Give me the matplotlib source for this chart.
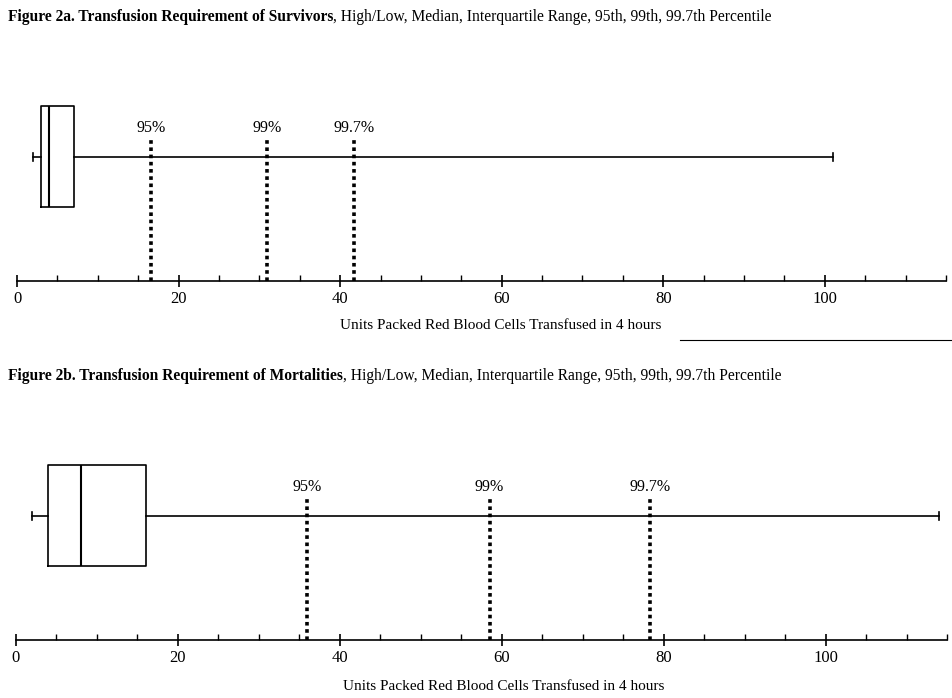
import matplotlib
matplotlib.use("Agg")
import matplotlib.pyplot as plt
from matplotlib.lines import Line2D

plt.rcParams['font.family'] = ['Liberation Serif', 'DejaVu Serif']

W, H = 952, 698

# ---- data ----
titles_bold = ["Figure 2a. Transfusion Requirement of Survivors",
               "Figure 2b. Transfusion Requirement of Mortalities"]
title_rest = ", High/Low, Median, Interquartile Range, 95th, 99th, 99.7th Percentile"
xlabel = "Units Packed Red Blood Cells Transfused in 4 hours"

survivors_stats = dict(whislo=2, q1=3, med=4, q3=7, whishi=101)
mortalities_stats = dict(whislo=2, q1=4, med=8, q3=16, whishi=114)

percentile_labels = ["95%", "99%", "99.7%"]
survivors_pct = [16.6, 31.0, 41.7]
mortalities_pct = [36.0, 58.5, 78.3]

xticks_major = [0, 20, 40, 60, 80, 100]
xlim = (0, 115)

fig = plt.figure(figsize=(W / 100, H / 100), dpi=100)


def fx(px):
    return px / W


def fy(py):
    return 1 - py / H


def panel(x0px, x1px, axis_ypx, stats, pcts, xlabel_x, xlabel_y):
    height_px = 200
    ax = fig.add_axes([fx(x0px), fy(axis_ypx), fx(x1px - x0px), height_px / H])
    ax.set_xlim(*xlim)
    ax.set_ylim(0, height_px)
    ax.patch.set_alpha(0)
    for s in ['top', 'left', 'right']:
        ax.spines[s].set_visible(False)
    ax.spines['bottom'].set_linewidth(1.2)
    st = dict(stats)
    st['fliers'] = []
    ax.bxp([st], positions=[124.5], widths=[101], orientation='horizontal',
           showfliers=False, capwidths=[8],
           boxprops=dict(color='black', linewidth=1.2),
           medianprops=dict(color='black', linewidth=1.5),
           whiskerprops=dict(color='black', linewidth=1.2),
           capprops=dict(color='black', linewidth=1.2))
    ax.set_yticks([])
    ax.set_ylim(0, height_px)
    for v, lab in zip(pcts, percentile_labels):
        ax.plot([v, v], [0, 143], color='black', linewidth=2.6,
                linestyle=(0, (1, 1)), solid_capstyle='butt')
        ax.text(v, 153, lab, ha='center', va='center', fontsize=11.5)
    ax.set_xlim(*xlim)
    ax.set_xticks(xticks_major)
    ax.set_xticks(range(0, 116, 5), minor=True)
    ax.tick_params(axis='x', which='major', direction='inout', length=8,
                   width=1.2, labelsize=12, pad=3)
    ax.tick_params(axis='x', which='minor', direction='in', length=4, width=1.0)
    fig.text(fx(xlabel_x), fy(xlabel_y), xlabel,
             ha='center', va='center', fontsize=11)
    return ax


ax1 = panel(17, 946, 281, survivors_stats, survivors_pct, 501, 326)
ax2 = panel(16, 947, 640, mortalities_stats, mortalities_pct, 504, 687)

renderer = fig.canvas.get_renderer()
for tb, ty in zip(titles_bold, [17, 376]):
    t = fig.text(fx(8), fy(ty), tb, ha='left', va='center', fontsize=11.2,
                 fontweight='bold')
    bb = t.get_window_extent(renderer)
    fig.text(bb.x1 / W, fy(ty), title_rest, ha='left', va='center', fontsize=11.2)

# separator line under top panel
fig.add_artist(Line2D([fx(680), 1.0], [fy(340), fy(340)], color='black',
                      linewidth=0.8))

fig.savefig("out.png", dpi=100)
